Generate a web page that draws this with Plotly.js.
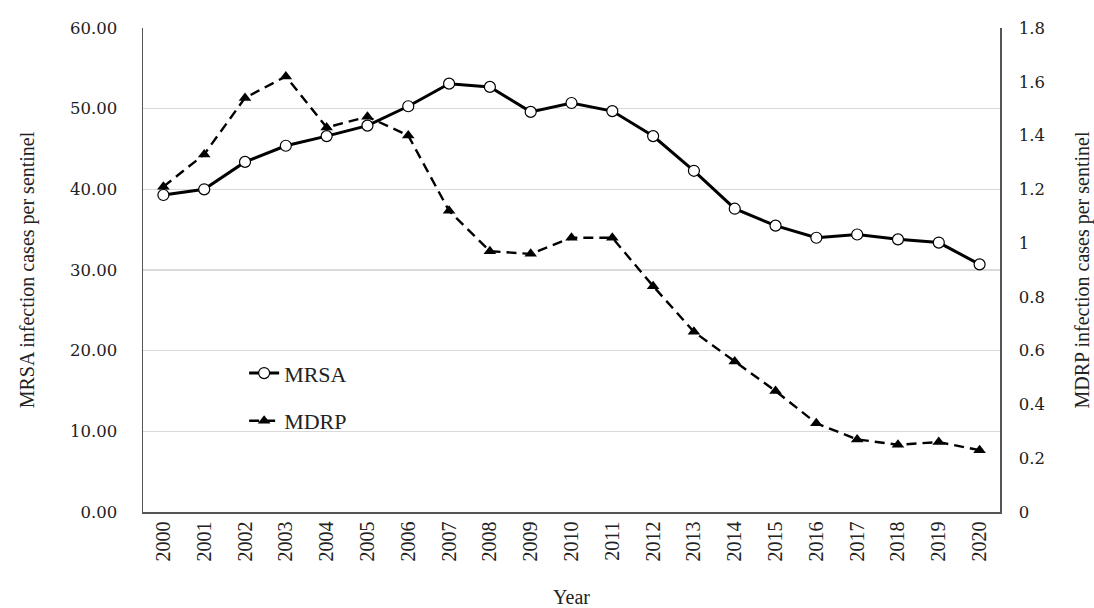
<!DOCTYPE html>
<html>
<head>
<meta charset="utf-8">
<script src="https://cdn.plot.ly/plotly-3.0.1.min.js"></script>
<style>html,body{margin:0;padding:0;background:#fff;}#chart{width:1094px;height:608px;}</style>
</head>
<body>
<div id="chart"></div>
<script>
const years = ["2000","2001","2002","2003","2004","2005","2006","2007","2008","2009","2010","2011","2012","2013","2014","2015","2016","2017","2018","2019","2020"];
const mrsa = [39.3,40.0,43.4,45.4,46.6,47.9,50.3,53.1,52.7,49.6,50.7,49.7,46.6,42.3,37.6,35.5,34.0,34.4,33.8,33.4,30.7];
const mdrp = [1.21,1.33,1.54,1.62,1.43,1.47,1.40,1.12,0.97,0.96,1.02,1.02,0.84,0.67,0.56,0.45,0.33,0.27,0.25,0.26,0.23];
const serif = "Liberation Serif, Times New Roman, serif";
const numSerif = "DejaVu Serif, serif";

const traces = [
  {x: years, y: mrsa, name: "MRSA", type: "scatter", mode: "lines+markers", yaxis: "y", legendgroup: "a",
   line: {color: "#000", width: 3},
   marker: {symbol: "circle", size: 11, color: "#fff", line: {color: "#000", width: 1.2}}},
  {x: years, y: mdrp, name: "MDRP", type: "scatter", mode: "lines+markers", yaxis: "y2", legendgroup: "b",
   line: {color: "#000", width: 2.4, dash: "10px,6px"},
   marker: {symbol: "triangle-up", size: 11, color: "#000"}}
];

const layout = {
  width: 1094, height: 608,
  margin: {l: 143, r: 94, t: 28, b: 96},
  paper_bgcolor: "#fff", plot_bgcolor: "#fff",
  font: {family: serif, color: "#222", size: 17},
  showlegend: true,
  legend: {x: 0.118, y: 0.33, xanchor: "left", yanchor: "top", bgcolor: "rgba(0,0,0,0)",
           font: {size: 22, family: serif, color: "#222"}, tracegroupgap: 16, traceorder: "grouped"},
  xaxis: {type: "category", range: [-0.5, 20.5], tickangle: -90, showgrid: false, showline: true, linecolor: "#555", linewidth: 1.5,
          ticks: "", mirror: false, tickfont: {size: 20, family: serif},
          title: {text: "Year", font: {size: 20, family: serif}, standoff: 29}},
  yaxis: {range: [0, 60], dtick: 10, tickformat: ".2f", showgrid: true, gridcolor: "#d9d9d9", gridwidth: 1.5,
          showline: true, linecolor: "#555", linewidth: 1.5, ticks: "", zeroline: false,
          tickfont: {size: 16.5, family: numSerif}, ticklabelstandoff: 21,
          title: {text: "MRSA infection cases per sentinel", font: {size: 20, family: serif}, standoff: 30}},
  yaxis2: {range: [0, 1.8], dtick: 0.2, overlaying: "y", side: "right", showgrid: false, zeroline: false,
           showline: true, linecolor: "#555", linewidth: 1.5, ticks: "",
           tickfont: {size: 16.5, family: numSerif}, ticklabelstandoff: 14,
           title: {text: "MDRP infection cases per sentinel", font: {size: 20, family: serif}, standoff: 36}}
};

Plotly.newPlot("chart", traces, layout, {staticPlot: true, displayModeBar: false});
</script>
</body>
</html>
